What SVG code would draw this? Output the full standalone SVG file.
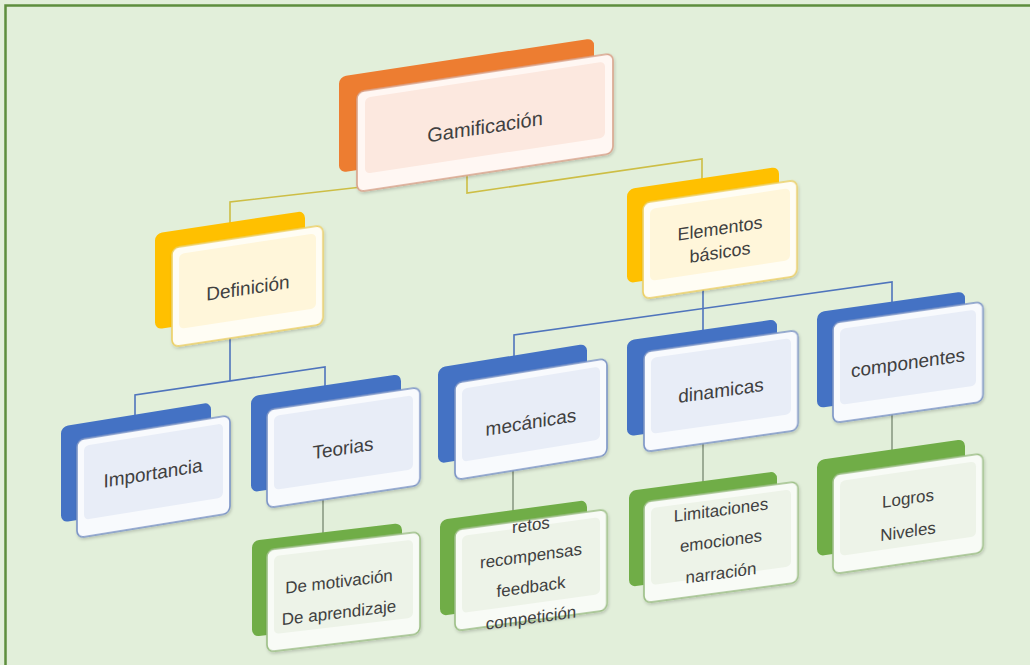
<svg xmlns="http://www.w3.org/2000/svg" width="1030" height="665" viewBox="0 0 1030 665">
<defs>
<filter id="sh" x="-10%" y="-10%" width="125%" height="130%">
<feDropShadow dx="1" dy="2" stdDeviation="1.5" flood-color="#000" flood-opacity="0.18"/>
</filter>
</defs>
<style>
.bg{fill:#E2EFDA}
.frame{fill:none;stroke:#5E8E3E;stroke-width:2.5}
.bk-o{fill:#ED7D31}
.bk-y{fill:#FFC000}
.bk-b{fill:#4472C4}
.bk-g{fill:#70AD47}
.fr{stroke-width:1.6;filter:url(#sh)}
.fr-o{fill:#FFF7F3;stroke:#D9A38A}
.fr-y{fill:#FFFDF4;stroke:#EDD064}
.fr-b{fill:#F8FAFD;stroke:#7B94C6}
.fr-g{fill:#F8FBF6;stroke:#9DBF86}
.in-o{fill:#FCE8DF}
.in-y{fill:#FFF6DA}
.in-b{fill:#E8EDF7}
.in-g{fill:#EDF3E8}
.t{font-family:"Liberation Sans",Arial,sans-serif;fill:#404040;text-anchor:middle}
.c-y{fill:none;stroke:#CDBE45;stroke-width:1.6}
.c-b{fill:none;stroke:#4F74BC;stroke-width:1.6}
.c-g{fill:none;stroke:#7F8F78;stroke-width:1.4}
</style>
<rect class="bg" x="0" y="0" width="1030" height="665"/>
<path class="frame" d="M5.5 665 V5.5 H1030"/>

<g id="connectors">
<polyline class="c-y" points="230,224 230,202 467,175"/>
<polyline class="c-y" points="467,175 467,193 702,159 702,180"/>
<polyline class="c-b" points="230,336 230,381"/>
<polyline class="c-b" points="135,415 135,395 325,367 325,388"/>
<polyline class="c-g" points="323,495 323,534"/>
<polyline class="c-b" points="703,285 703,330"/>
<polyline class="c-b" points="514,358 514,335 892,282 892,302"/>
<polyline class="c-g" points="513,468 513,512"/>
<polyline class="c-g" points="703,440 703,482"/>
<polyline class="c-g" points="892,405 892,452"/>
</g>

<g id="n-gamificacion" transform="translate(357,92) skewY(-8.6)">
<rect class="bk-o" x="-18" y="-18" width="255" height="96" rx="7"/>
<rect class="fr fr-o" x="0" y="0" width="256" height="100" rx="7"/>
<rect class="in-o" x="8" y="7" width="240" height="76" rx="5"/>
<text class="t" x="128" y="61" font-size="20">Gamificación</text>
</g>

<g id="n-definicion" transform="translate(172,248) skewY(-8.6)">
<rect class="bk-y" x="-17" y="-17" width="150" height="96" rx="7"/>
<rect class="fr fr-y" x="0" y="0" width="151" height="99" rx="7"/>
<rect class="in-y" x="7" y="7" width="137" height="75" rx="5"/>
<text class="t" x="76" y="58" font-size="19">Definición</text>
</g>

<g id="n-elementos" transform="translate(643,203) skewY(-8.5)">
<rect class="bk-y" x="-16" y="-16" width="152" height="94" rx="7"/>
<rect class="fr fr-y" x="0" y="0" width="154" height="96" rx="7"/>
<rect class="in-y" x="7" y="7" width="140" height="72" rx="5"/>
<text class="t" x="77" y="43" font-size="18">Elementos</text>
<text class="t" x="77" y="67" font-size="18">básicos</text>
</g>

<g id="n-importancia" transform="translate(77,440) skewY(-9.2)">
<rect class="bk-b" x="-16" y="-16" width="150" height="96" rx="7"/>
<rect class="fr fr-b" x="0" y="0" width="153" height="98" rx="7"/>
<rect class="in-b" x="7" y="7" width="139" height="74" rx="5"/>
<text class="t" x="76" y="52" font-size="19">Importancia</text>
</g>

<g id="n-teorias" transform="translate(267,410) skewY(-8.5)">
<rect class="bk-b" x="-16" y="-16" width="150" height="96" rx="7"/>
<rect class="fr fr-b" x="0" y="0" width="153" height="98" rx="7"/>
<rect class="in-b" x="7" y="7" width="139" height="74" rx="5"/>
<text class="t" x="76" y="56" font-size="19">Teorias</text>
</g>

<g id="n-demotivacion" transform="translate(267,550) skewY(-6.8)">
<rect class="bk-g" x="-15" y="-11" width="150" height="96" rx="7"/>
<rect class="fr fr-g" x="0" y="0" width="153" height="102" rx="7"/>
<rect class="in-g" x="7" y="7" width="139" height="78" rx="5"/>
<text class="t" x="72" y="46" font-size="17">De motivación</text>
<text class="t" x="72" y="77" font-size="17">De aprendizaje</text>
</g>

<g id="n-mecanicas" transform="translate(455,383) skewY(-9.2)">
<rect class="bk-b" x="-17" y="-18" width="149" height="96" rx="7"/>
<rect class="fr fr-b" x="0" y="0" width="152" height="97" rx="7"/>
<rect class="in-b" x="7" y="7" width="138" height="73" rx="5"/>
<text class="t" x="76" y="58" font-size="19">mecánicas</text>
</g>

<g id="n-retos" transform="translate(455,530) skewY(-7.8)">
<rect class="bk-g" x="-15" y="-12" width="147" height="96" rx="7"/>
<rect class="fr fr-g" x="0" y="0" width="152" height="101" rx="7"/>
<rect class="in-g" x="7" y="7" width="138" height="77" rx="5"/>
<text class="t" x="76" y="11" font-size="17">retos</text>
<text class="t" x="76" y="42" font-size="17">recompensas</text>
<text class="t" x="76" y="73" font-size="17">feedback</text>
<text class="t" x="76" y="104" font-size="17">competición</text>
</g>

<g id="n-dinamicas" transform="translate(644,352) skewY(-8.1)">
<rect class="bk-b" x="-17" y="-14" width="150" height="96" rx="7"/>
<rect class="fr fr-b" x="0" y="0" width="154" height="100" rx="7"/>
<rect class="in-b" x="7" y="7" width="140" height="76" rx="5"/>
<text class="t" x="77" y="56" font-size="19">dinamicas</text>
</g>

<g id="n-limitaciones" transform="translate(644,502) skewY(-7.6)">
<rect class="bk-g" x="-15" y="-13" width="148" height="96" rx="7"/>
<rect class="fr fr-g" x="0" y="0" width="154" height="101" rx="7"/>
<rect class="in-g" x="7" y="7" width="140" height="77" rx="5"/>
<text class="t" x="77" y="24" font-size="17">Limitaciones</text>
<text class="t" x="77" y="55" font-size="17">emociones</text>
<text class="t" x="77" y="87" font-size="17">narración</text>
</g>

<g id="n-componentes" transform="translate(833,323) skewY(-8.1)">
<rect class="bk-b" x="-16" y="-13" width="148" height="96" rx="7"/>
<rect class="fr fr-b" x="0" y="0" width="150" height="100" rx="7"/>
<rect class="in-b" x="7" y="7" width="136" height="76" rx="5"/>
<text class="t" x="75" y="57" font-size="19">componentes</text>
</g>

<g id="n-logros" transform="translate(833,475) skewY(-8.2)">
<rect class="bk-g" x="-16" y="-17" width="148" height="96" rx="7"/>
<rect class="fr fr-g" x="0" y="0" width="150" height="99" rx="7"/>
<rect class="in-g" x="7" y="7" width="136" height="75" rx="5"/>
<text class="t" x="75" y="40" font-size="17">Logros</text>
<text class="t" x="75" y="73" font-size="17">Niveles</text>
</g>
</svg>
